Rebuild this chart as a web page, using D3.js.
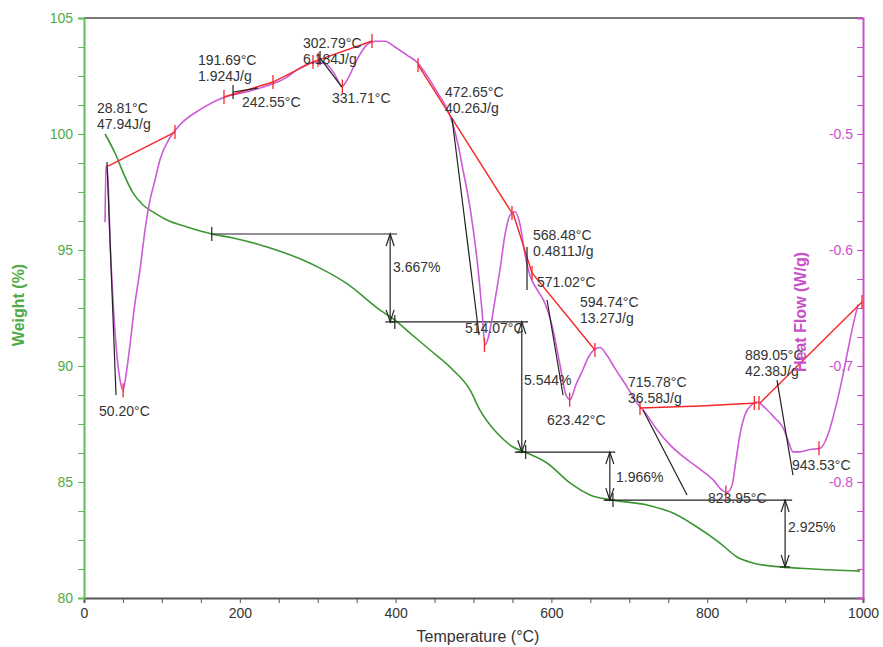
<!DOCTYPE html>
<html>
<head>
<meta charset="utf-8">
<script src="https://cdn.jsdelivr.net/npm/d3@7"></script>
<style>
body { margin: 0; background: #fff; }
text { font-family: "Liberation Sans", Arial, sans-serif; }
</style>
</head>
<body>
<svg id="chart" width="883" height="647"></svg>
<script>
// TGA curve (weight %, left axis)
var tgaTemp   = [27, 39.8, 52.6, 62.9, 75.7, 88.6, 106.5, 132.2, 164.3, 191.3, 234.9, 277.3, 303, 337.6, 380, 399.2, 418.5, 444.2, 473.7, 495.5, 508.3, 530.2, 550.7, 566.1, 594.4, 623.9, 649.6, 679.1, 722.7, 756.1, 786.9, 816.4, 838.3, 858.8, 893.5, 935.8, 996.1];
var tgaWeight = [100, 99.18, 98.15, 97.46, 96.94, 96.64, 96.29, 95.99, 95.69, 95.52, 95.13, 94.62, 94.22, 93.55, 92.41, 91.98, 91.42, 90.69, 89.83, 88.97, 88.10, 87.11, 86.51, 86.29, 85.82, 84.96, 84.44, 84.22, 84.01, 83.66, 83.06, 82.37, 81.77, 81.51, 81.34, 81.25, 81.16];

// DSC curve (heat flow W/g, right axis)
var dscTemp = [27.0, 28.2, 30.8, 33.4, 37.2, 41.1, 46.2, 50.1, 53.9, 59.0, 64.2, 71.9, 78.3, 84.7, 91.1, 97.6, 110.4, 123.2, 148.9, 181.0, 206.7, 232.3, 258.0, 277.3, 296.5, 309.4, 322.2, 331.2, 338.9, 350.4, 363.3, 373.6, 386.4, 399.2, 414.6, 428.8, 441.6, 454.4, 466.0, 473.7, 480.1, 486.5, 492.9, 499.4, 505.8, 510.9, 514.8, 519.9, 527.6, 534.0, 540.4, 546.9, 553.3, 559.7, 566.1, 572.5, 581.5, 591.8, 600.8, 611.0, 618.7, 623.9, 631.6, 640.6, 647.0, 654.7, 662.4, 671.4, 681.6, 697.1, 709.9, 720.2, 735.6, 752.2, 768.9, 786.9, 807.4, 819.0, 825.4, 831.8, 837.0, 842.1, 848.5, 856.2, 863.9, 874.2, 887.0, 897.3, 903.7, 910.1, 919.1, 931.9, 944.8, 955.1, 964.0, 973.0, 980.7, 987.2, 993.6];
var dscHeat = [-0.576, -0.527, -0.540, -0.591, -0.643, -0.682, -0.712, -0.721, -0.708, -0.682, -0.652, -0.617, -0.583, -0.557, -0.540, -0.522, -0.503, -0.492, -0.479, -0.468, -0.464, -0.459, -0.452, -0.443, -0.438, -0.439, -0.449, -0.459, -0.452, -0.436, -0.423, -0.420, -0.420, -0.425, -0.432, -0.439, -0.451, -0.465, -0.478, -0.492, -0.509, -0.531, -0.553, -0.581, -0.616, -0.652, -0.682, -0.673, -0.643, -0.617, -0.587, -0.570, -0.567, -0.578, -0.604, -0.622, -0.634, -0.646, -0.665, -0.699, -0.725, -0.729, -0.716, -0.703, -0.693, -0.686, -0.684, -0.691, -0.702, -0.718, -0.732, -0.740, -0.755, -0.768, -0.778, -0.787, -0.798, -0.807, -0.809, -0.803, -0.781, -0.759, -0.742, -0.734, -0.731, -0.736, -0.745, -0.753, -0.764, -0.774, -0.774, -0.772, -0.771, -0.759, -0.738, -0.712, -0.686, -0.665, -0.647];

// red integration baselines [temp, heat]
var baselines = [
  [[30.8, -0.5276], [116.8, -0.4983]],
  [[179.7, -0.4681], [242.6, -0.4552], [294.0, -0.4379], [369.7, -0.4198]],
  [[428.8, -0.4405], [549.4, -0.5681]],
  [[550.7, -0.5681], [575.1, -0.6198], [655.9, -0.6862]],
  [[713.7, -0.7362], [790.8, -0.7345], [863.9, -0.7319]],
  [[867.8, -0.7319], [998.7, -0.6448]]
];
var redTicks = [[116.8, -0.4983], [179.7, -0.4681], [242.6, -0.4552], [294.0, -0.4379], [300.4, -0.436], [369.7, -0.4198],
  [428.8, -0.4405], [549.4, -0.5681], [575.1, -0.6198], [655.9, -0.6862], [713.7, -0.7362], [860.5, -0.732], [866.5, -0.732], [998.7, -0.6448],
  [50.2, -0.721], [331.71, -0.459], [514.07, -0.682], [623.42, -0.729], [823.95, -0.809], [943.53, -0.771]];

// black onset tangents
var tangents = [
  [[29.5, -0.5241], [41.1, -0.725]],
  [[191.3, -0.4638], [223.4, -0.4603]],
  [[303, -0.4345], [331.2, -0.4595]],
  [[472.4, -0.4862], [507.1, -0.6733]],
  [[568.7, -0.5974], [568.7, -0.6345]],
  [[594.4, -0.6431], [614.9, -0.725]],
  [[717.6, -0.7379], [774.1, -0.8112]],
  [[889.6, -0.7121], [910.1, -0.794]]
];
var blackTicks = [[191.3, -0.4638], [303, -0.4345]];

// DSC peak labels
var peakText = [["28.81°C", "47.94J/g"], ["191.69°C", "1.924J/g"], ["242.55°C"], ["302.79°C", "6.184J/g"], ["331.71°C"],
  ["472.65°C", "40.26J/g"], ["514.07°C"], ["568.48°C", "0.4811J/g"], ["571.02°C"], ["594.74°C", "13.27J/g"], ["50.20°C"],
  ["623.42°C"], ["715.78°C", "36.58J/g"], ["889.05°C", "42.38J/g"], ["823.95°C"], ["943.53°C"]];
var peakTemp = [16.7, 146.3, 202.8, 281.1, 318.4, 463.4, 489.1, 576.4, 581.5, 636.7, 19.3, 594.4, 698.3, 848.5, 801.0, 908.9];
var peakHeat = [-0.482, -0.4405, -0.4767, -0.4259, -0.4733, -0.4681, -0.6716, -0.5914, -0.6319, -0.6491, -0.7431, -0.7509, -0.7181, -0.6948, -0.8181, -0.7897];

// TGA step analysis
var stepLevel = [95.69, 91.90, 86.29, 84.22, 81.34];
var stepArrowTemp = [393, 562, 675, 900];
var stepLabel = ["3.667%", "5.544%", "1.966%", "2.925%"];
var stepLabelTemp = [396.7, 564.8, 682.9, 903.7];
var stepLabelWeight = [94.05, 89.18, 85.0, 82.84];
var stepLineFrom = [164, 393, 553, 667];
var stepLineTo = [402, 570, 682, 909];
var stepTickTemp = [164, 399, 567, 679];

var weightTicks = d3.range(80, 105.01, 1.25);
var heatTicks = d3.range(-0.9, -0.3999, 0.025);
var tempTicks = d3.range(0, 1000.1, 50);

var svg = d3.select('#chart');
var pL = 84, pR = 863, pT = 18, pB = 598;

var x = d3.scaleLinear().domain([0, 1000]).range([pL, pR]);
var yW = d3.scaleLinear().domain([80, 105]).range([pB, pT]);
var yH = d3.scaleLinear().domain([-0.9, -0.4]).range([pB, pT]);

var green = 'rgb(60,150,50)', greenAxis = 'rgb(100,185,90)', greenText = 'rgb(80,170,70)';
var magenta = 'rgb(205,90,215)', magAxis = 'rgb(200,80,200)';
var red = 'rgb(245,40,40)', ink = '#333';

// top frame
svg.append('line').attr('x1', pL).attr('x2', pR).attr('y1', pT).attr('y2', pT)
  .attr('stroke', '#777').attr('stroke-width', 2);

// bottom axis
var xAxis = svg.append('g').attr('transform', 'translate(0,' + pB + ')')
  .call(d3.axisBottom(x).tickValues(tempTicks).tickSize(5).tickPadding(5)
    .tickFormat(d => d % 200 === 0 ? d : ''));
xAxis.select('.domain').attr('stroke', '#555').attr('stroke-width', 2);
xAxis.selectAll('.tick line').attr('stroke', '#555');
xAxis.selectAll('text').attr('fill', ink).style('font-size', '14px').attr('font-family', null);

// left axis
var wAxis = svg.append('g').attr('transform', 'translate(' + pL + ',0)')
  .call(d3.axisLeft(yW).tickValues(weightTicks).tickSize(6).tickPadding(5)
    .tickFormat(d => d % 5 === 0 ? d : ''));
wAxis.select('.domain').attr('stroke', greenAxis).attr('stroke-width', 2);
wAxis.selectAll('.tick line').attr('stroke', greenAxis);
wAxis.selectAll('text').attr('fill', greenText).style('font-size', '14px').attr('font-family', null);

// right axis (labels sit inside the plot)
var hAxis = svg.append('g').attr('transform', 'translate(' + pR + ',0)')
  .call(d3.axisLeft(yH).tickValues(heatTicks).tickSize(6).tickPadding(4)
    .tickFormat(d => {
      var r = Math.round(d * 1000) / 1000;
      return (Math.abs(r * 10 - Math.round(r * 10)) < 1e-6 && r > -0.85 && r < -0.45) ? r.toFixed(1) : '';
    }));
hAxis.select('.domain').attr('stroke', magAxis).attr('stroke-width', 2);
hAxis.selectAll('.tick line').attr('stroke', magAxis);
hAxis.selectAll('text').attr('fill', magAxis).style('font-size', '14px').attr('font-family', null);

// axis titles
svg.append('text').attr('x', 478).attr('y', 642).attr('text-anchor', 'middle')
  .attr('fill', ink).style('font-size', '16px').text('Temperature (°C)');
svg.append('text').attr('transform', 'translate(24,305) rotate(-90)').attr('text-anchor', 'middle')
  .attr('fill', greenText).style('font-size', '16px').style('font-weight', 'bold').text('Weight (%)');

// curves
var tga = tgaTemp.map((t, i) => [t, tgaWeight[i]]);
var dsc = dscTemp.map((t, i) => [t, dscHeat[i]]);

svg.append('path').datum(tga)
  .attr('d', d3.line().x(d => x(d[0])).y(d => yW(d[1])).curve(d3.curveMonotoneX))
  .attr('fill', 'none').attr('stroke', green).attr('stroke-width', 1.6);

// step analysis lines
var stepG = svg.append('g').attr('stroke', '#222').attr('stroke-width', 1.2).attr('fill', 'none');
stepLevel.slice(0, 4).forEach((lv, i) => {
  stepG.append('line').attr('x1', x(stepLineFrom[i])).attr('x2', x(stepLineTo[i]))
    .attr('y1', yW(lv)).attr('y2', yW(lv));
  stepG.append('line').attr('x1', x(stepTickTemp[i])).attr('x2', x(stepTickTemp[i]))
    .attr('y1', yW(lv) - 7).attr('y2', yW(lv) + 7);
  var ax = x(stepArrowTemp[i]), y1 = yW(lv), y2 = yW(stepLevel[i + 1]);
  stepG.append('line').attr('x1', ax).attr('x2', ax).attr('y1', y1).attr('y2', y2);
  stepG.append('path').attr('d', 'M' + (ax - 4) + ',' + (y1 + 12) + 'L' + ax + ',' + y1 + 'L' + (ax + 4) + ',' + (y1 + 12));
  stepG.append('path').attr('d', 'M' + (ax - 4) + ',' + (y2 - 12) + 'L' + ax + ',' + y2 + 'L' + (ax + 4) + ',' + (y2 - 12));
  stepG.append('line').attr('x1', ax - 5).attr('x2', ax + 5).attr('y1', y2).attr('y2', y2);
});

svg.append('path').datum(dsc)
  .attr('d', d3.line().x(d => x(d[0])).y(d => yH(d[1])).curve(d3.curveMonotoneX))
  .attr('fill', 'none').attr('stroke', magenta).attr('stroke-width', 1.6);

// baselines
var hLine = d3.line().x(d => x(d[0])).y(d => yH(d[1]));
baselines.forEach(b => {
  svg.append('path').attr('d', hLine(b)).attr('fill', 'none').attr('stroke', red).attr('stroke-width', 1.4);
});
redTicks.forEach(p => {
  svg.append('line').attr('x1', x(p[0])).attr('x2', x(p[0]))
    .attr('y1', yH(p[1]) - 7).attr('y2', yH(p[1]) + 7).attr('stroke', red).attr('stroke-width', 1.3);
});

// tangents
tangents.forEach(t => {
  svg.append('path').attr('d', hLine(t)).attr('fill', 'none').attr('stroke', '#222').attr('stroke-width', 1.2);
});
blackTicks.forEach(p => {
  svg.append('line').attr('x1', x(p[0])).attr('x2', x(p[0]))
    .attr('y1', yH(p[1]) - 7).attr('y2', yH(p[1]) + 7).attr('stroke', '#222').attr('stroke-width', 1.2);
});

// labels
peakText.forEach((lines, i) => {
  var t = svg.append('text').attr('x', x(peakTemp[i])).attr('y', yH(peakHeat[i]))
    .attr('fill', ink).style('font-size', '14px');
  lines.forEach((s, j) => {
    t.append('tspan').attr('x', x(peakTemp[i])).attr('dy', j === 0 ? 0 : 16).text(s);
  });
});
stepLabel.forEach((s, i) => {
  svg.append('text').attr('x', x(stepLabelTemp[i])).attr('y', yW(stepLabelWeight[i]))
    .attr('fill', ink).style('font-size', '14px').text(s);
});

svg.append('text').attr('transform', 'translate(806,312) rotate(-90)').attr('text-anchor', 'middle')
  .attr('fill', magAxis).style('font-size', '16px').style('font-weight', 'bold').text('Heat Flow (W/g)');
</script>
</body>
</html>
